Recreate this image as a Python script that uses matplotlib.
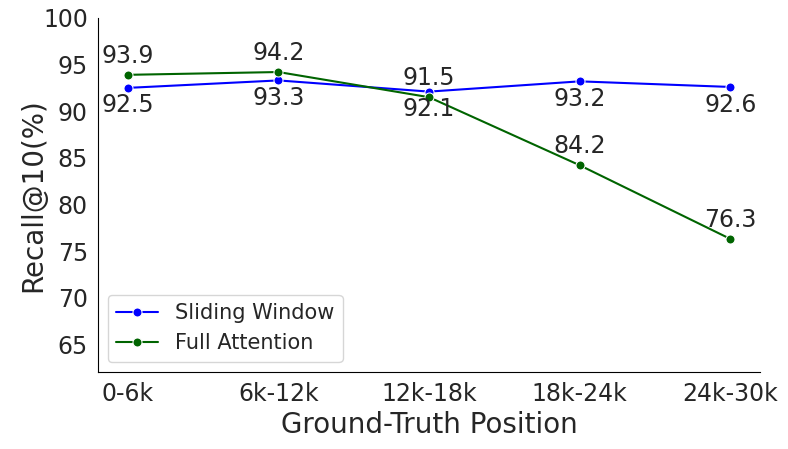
import matplotlib

matplotlib.use("Agg")
import matplotlib.pyplot as plt
import seaborn as sns

# chart data
positions = ["0-6k", "6k-12k", "12k-18k", "18k-24k", "24k-30k"]
sliding_window = [92.5, 93.3, 92.1, 93.2, 92.6]
full_attention = [93.9, 94.2, 91.5, 84.2, 76.3]

sns.set_style("white")
plt.rcParams["font.family"] = ["DejaVu Sans"]

fig = plt.figure(figsize=(7.88, 4.49), dpi=100)
ax = fig.add_axes([0.124, 0.171, 0.841, 0.789])

x = list(range(len(positions)))
sns.lineplot(x=x, y=sliding_window, marker="o", color="blue",
             label="Sliding Window", ax=ax, markersize=6.5)
sns.lineplot(x=x, y=full_attention, marker="o", color="darkgreen",
             label="Full Attention", ax=ax, markersize=6.5)

# value labels: sliding window below, full attention above
for xi, v in zip(x, sliding_window):
    ax.annotate(f"{v}", (xi, v), textcoords="offset points", xytext=(0, -4),
                ha="center", va="top", fontsize=17, color="#262626")
for xi, v in zip(x, full_attention):
    ax.annotate(f"{v}", (xi, v), textcoords="offset points", xytext=(0, 5),
                ha="center", va="bottom", fontsize=17, color="#262626")

ax.set_xticks(x)
ax.set_xticklabels(positions)
ax.set_xlim(-0.2, 4.2)
ax.set_ylim(62, 100)
ax.set_yticks([65, 70, 75, 80, 85, 90, 95, 100])
ax.tick_params(axis="both", labelsize=17, colors="#262626")
ax.set_xlabel("Ground-Truth Position", fontsize=20, color="#262626")
ax.set_ylabel("Recall@10(%)", fontsize=20, color="#262626", labelpad=-3)

for side in ["left", "bottom"]:
    ax.spines[side].set_color("black")
    ax.spines[side].set_linewidth(0.8)
sns.despine(ax=ax)

ax.legend(loc="lower left", fontsize=15)

fig.savefig("out.png", dpi=100)
